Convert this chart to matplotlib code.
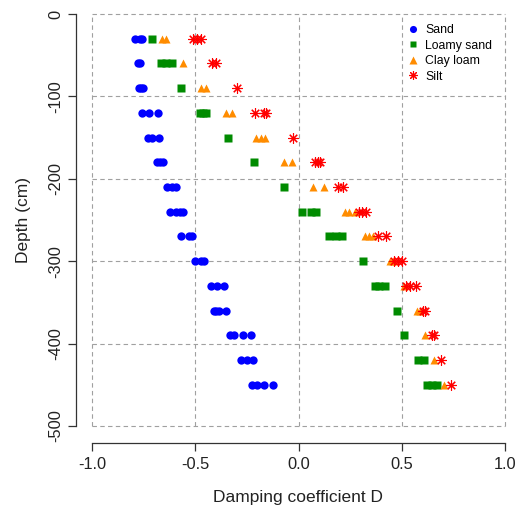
import matplotlib
matplotlib.use("Agg")
import matplotlib.pyplot as plt

plt.rcParams['font.family'] = ['Liberation Sans', 'DejaVu Sans']

# ---- data ----
sand_depth = [-30]*3 + [-60]*2 + [-90]*3 + [-120]*3 + [-150]*3 + [-180]*3 + [-210]*3 + [-240]*4 + [-270]*3 + [-300]*3 + [-330]*3 + [-360]*4 + [-390]*4 + [-420]*3 + [-450]*4
sand_D = [-0.79, -0.77, -0.76,
          -0.78, -0.77,
          -0.775, -0.765, -0.755,
          -0.76, -0.725, -0.68,
          -0.73, -0.71, -0.675,
          -0.685, -0.67, -0.655,
          -0.635, -0.615, -0.595,
          -0.625, -0.595, -0.575, -0.56,
          -0.57, -0.53, -0.515,
          -0.50, -0.475, -0.46,
          -0.425, -0.395, -0.36,
          -0.41, -0.40, -0.385, -0.35,
          -0.335, -0.315, -0.27, -0.23,
          -0.28, -0.25, -0.22,
          -0.225, -0.20, -0.17, -0.125]

loamy_depth = [-30] + [-60]*3 + [-90] + [-120]*3 + [-150] + [-180] + [-210] + [-240]*3 + [-270]*3 + [-300] + [-330]*3 + [-360] + [-390] + [-420]*2 + [-450]*3
loamy_D = [-0.71,
           -0.665, -0.64, -0.615,
           -0.57,
           -0.48, -0.465, -0.45,
           -0.34,
           -0.215,
           -0.07,
           0.015, 0.06, 0.085,
           0.145, 0.18, 0.21,
           0.31,
           0.37, 0.39, 0.415,
           0.475,
           0.51,
           0.575, 0.605,
           0.62, 0.645, 0.67]

clay_depth = [-30]*2 + [-60] + [-90]*2 + [-120]*2 + [-150]*3 + [-180]*2 + [-210]*2 + [-240]*3 + [-270]*3 + [-300]*2 + [-330] + [-360]*2 + [-390] + [-420] + [-450]
clay_D = [-0.66, -0.64,
          -0.56,
          -0.475, -0.45,
          -0.35, -0.325,
          -0.205, -0.185, -0.165,
          -0.07, -0.035,
          0.07, 0.12,
          0.225, 0.245, 0.27,
          0.32, 0.34, 0.36,
          0.44, 0.455,
          0.51,
          0.57, 0.585,
          0.61,
          0.655,
          0.705]

silt_depth = [-30]*3 + [-60]*2 + [-90] + [-120]*3 + [-150] + [-180]*3 + [-210]*2 + [-240]*3 + [-270]*2 + [-300]*3 + [-330]*3 + [-360]*2 + [-390]*2 + [-420] + [-450]
silt_D = [-0.51, -0.49, -0.475,
          -0.42, -0.40,
          -0.30,
          -0.21, -0.17, -0.16,
          -0.03,
          0.08, 0.095, 0.105,
          0.19, 0.215,
          0.29, 0.305, 0.325,
          0.385, 0.42,
          0.46, 0.48, 0.50,
          0.52, 0.54, 0.565,
          0.60, 0.61,
          0.645, 0.655,
          0.69,
          0.735]

labels = ["Sand", "Loamy sand", "Clay loam", "Silt"]
x_ticks = [-1.0, -0.5, 0.0, 0.5, 1.0]
y_ticks = [0, -100, -200, -300, -400, -500]

# ---- figure ----
W, H = 517, 509
fig = plt.figure(figsize=(W/100, H/100), dpi=100)
ax = fig.add_axes([75.5/W, (H-442.5)/H, 446.5/W, 445/H])
ax.set_xlim(-1.08, 1.08)
ax.set_ylim(-520, 20)

# grid
grid_kw = dict(color='#a0a0a0', linestyle=(0, (4, 3)), linewidth=0.8, zorder=1)
ax.vlines(x_ticks, y_ticks[-1], y_ticks[0], **grid_kw)
ax.hlines(y_ticks, x_ticks[0], x_ticks[-1], **grid_kw)

ax.plot(sand_D, sand_depth, 'o', color='#0000ff', ms=6, mec='none', label=labels[0], zorder=3)
ax.plot(loamy_D, loamy_depth, 's', color='#008b00', ms=5.2, mec='none', label=labels[1], zorder=3)
ax.plot(clay_D, clay_depth, '^', color='#ff8c00', ms=6.2, mec='none', label=labels[2], zorder=3)
ax.plot(silt_D, silt_depth, marker=(8, 2, 0), linestyle='none', color='#ff0000', ms=7.5, mew=0.8, label=labels[3], zorder=4)

for s in ['top', 'right']:
    ax.spines[s].set_visible(False)
ax.spines['left'].set_bounds(-500, 0)
ax.spines['bottom'].set_bounds(-1, 1)
for s in ['left', 'bottom']:
    ax.spines[s].set_linewidth(0.9)
    ax.spines[s].set_color('#333333')

ax.set_xticks(x_ticks)
ax.set_xticklabels([f"{v:.1f}" for v in x_ticks])
ax.set_yticks(y_ticks)
ax.set_yticklabels([str(v) for v in y_ticks])
ax.tick_params(direction='out', length=5.5, width=0.9, color='#333333', labelsize=11.8, labelcolor='#222222')
ax.tick_params(axis='x', pad=5)
ax.tick_params(axis='y', pad=3)
for lab in ax.get_yticklabels():
    lab.set_rotation(90)
    lab.set_va('center')

ax.set_xlabel("Damping coefficient D", fontsize=12.5, color='#222222')
ax.set_ylabel("Depth (cm)", fontsize=12.5, color='#222222')
ax.xaxis.set_label_coords(0.499, -0.1225)
ax.xaxis.label.set_va('center')
ax.yaxis.set_label_coords(-0.1155, 0.5)
ax.yaxis.label.set_va('center')

leg = ax.legend(loc='upper left', bbox_to_anchor=(408.1/W, 1-24.3/H), bbox_transform=fig.transFigure,
                frameon=False, fontsize=8.8, borderpad=0, handlelength=0.8, handletextpad=0.58,
                labelspacing=0.28, borderaxespad=0, markerscale=0.85)

fig.savefig("out.png", dpi=100)
